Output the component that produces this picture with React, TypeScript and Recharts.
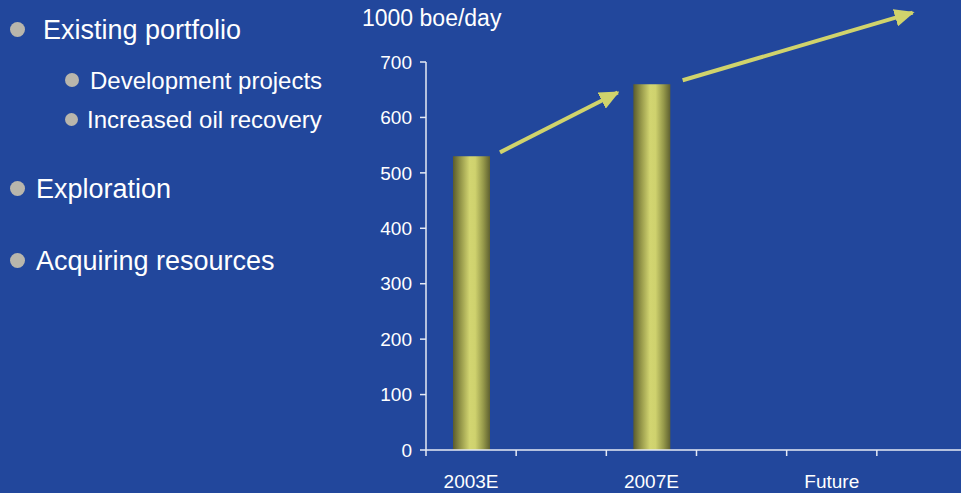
import React from "react";
import { BarChart, Bar, XAxis, YAxis, ReferenceLine } from "recharts";

const categories = ["2003E", "", "2007E", "", "Future", ""];
const production = [530, null, 660, null, null, null];
const yTicks = [0, 100, 200, 300, 400, 500, 600, 700];

// trend arrows, on a 0..5 guide scale across the plot, boe/day vertically
const arrowFrom = [
  [0.684, 537],
  [2.372, 667],
];
const arrowTo = [
  [1.772, 645],
  [4.498, 789],
];

const bullets = [
  { text: "Existing portfolio", level: 0, y: 30 },
  { text: "Development projects", level: 1, y: 81 },
  { text: "Increased oil recovery", level: 1, y: 120 },
  { text: "Exploration", level: 0, y: 189 },
  { text: "Acquiring resources", level: 0, y: 261 },
];

const data = categories.map((name, i) => ({ name, production: production[i] }));

const BG = "#22479c";
const AXIS = "#e6eaf4";
const ARROW = "#d0d36c";
const FONT = '"Liberation Sans", Arial, sans-serif';
const TICK_SIZE = 6;
const TICK_MARGIN = 19;

function CategoryTick(props: any) {
  const { x, y, payload, index, visibleTicksCount } = props;
  const half = payload && payload.offset ? payload.offset : 45;
  const axisY = y - TICK_MARGIN - TICK_SIZE;
  return (
    <g>
      <line x1={x - half} x2={x - half} y1={axisY} y2={axisY + TICK_SIZE} stroke={AXIS} strokeWidth={1.5} />
      {index === visibleTicksCount - 1 && (
        <line x1={x + half} x2={x + half} y1={axisY} y2={axisY + TICK_SIZE} stroke={AXIS} strokeWidth={1.5} />
      )}
      <text x={x} y={y} dy="0.71em" textAnchor="middle" fill="#ffffff" fontSize={19} fontFamily={FONT}>
        {payload.value}
      </text>
    </g>
  );
}

const arrowShape = (p: any) => (
  <line x1={p.x1} y1={p.y1} x2={p.x2} y2={p.y2} stroke={ARROW} strokeWidth={4} markerEnd="url(#arrowHead)" />
);

export default function App() {
  return (
    <div
      style={{
        position: "absolute",
        top: 0,
        left: 0,
        width: 961,
        height: 493,
        overflow: "hidden",
        background: BG,
        fontFamily: FONT,
        color: "#ffffff",
      }}
    >
      {bullets.map((b, i) => {
        const r = b.level === 0 ? 7.5 : i === 1 ? 7 : 6.5;
        const cx = b.level === 0 ? 17.5 : 71.5;
        const tx = b.level === 0 ? (i === 0 ? 43 : 36) : i === 1 ? 90 : 87;
        return (
          <React.Fragment key={b.text}>
            <div
              style={{
                position: "absolute",
                left: cx - r,
                top: b.y - r - 1,
                width: r * 2,
                height: r * 2,
                borderRadius: "50%",
                background: "#b9b6ac",
              }}
            />
            <div
              style={{
                position: "absolute",
                left: tx,
                top: b.y - 16,
                height: 32,
                lineHeight: "32px",
                fontSize: b.level === 0 ? 27 : 24,
                whiteSpace: "nowrap",
              }}
            >
              {b.text}
            </div>
          </React.Fragment>
        );
      })}
      <div
        style={{
          position: "absolute",
          left: 362,
          top: 4,
          fontSize: 23,
          lineHeight: "28px",
          whiteSpace: "nowrap",
        }}
      >
        1000 boe/day
      </div>
      <div style={{ position: "absolute", top: 0, left: 0 }}>
        <BarChart width={990} height={493} data={data} margin={{ top: 62, right: 23, bottom: 0, left: 0 }}>
          <defs>
            <linearGradient id="barGrad" x1="0" y1="0" x2="1" y2="0">
              <stop offset="0" stopColor="#5a5b2e" />
              <stop offset="0.22" stopColor="#989a4b" />
              <stop offset="0.45" stopColor="#d2d571" />
              <stop offset="0.6" stopColor="#cfd26e" />
              <stop offset="0.82" stopColor="#95984a" />
              <stop offset="1" stopColor="#5e6030" />
            </linearGradient>
            <marker
              id="arrowHead"
              viewBox="0 0 20 18"
              refX="18"
              refY="9"
              markerWidth="20"
              markerHeight="18"
              markerUnits="userSpaceOnUse"
              orient="auto"
            >
              <path d="M0,0 L20,9 L0,18 Z" fill={ARROW} />
            </marker>
          </defs>
          <XAxis
            dataKey="name"
            interval={0}
            height={43}
            tickLine={false}
            tickSize={TICK_SIZE}
            tickMargin={TICK_MARGIN}
            axisLine={{ stroke: AXIS, strokeWidth: 1.5 }}
            tick={CategoryTick}
          />
          <XAxis xAxisId="num" type="number" domain={[0, 5]} hide allowDataOverflow />
          <YAxis
            width={426}
            domain={[0, 700]}
            ticks={yTicks}
            interval={0}
            tickSize={TICK_SIZE}
            tickMargin={8}
            axisLine={{ stroke: AXIS, strokeWidth: 1.5 }}
            tickLine={{ stroke: AXIS, strokeWidth: 1.5 }}
            tick={{ fill: "#ffffff", fontSize: 19, fontFamily: FONT }}
          />
          <Bar dataKey="production" fill="url(#barGrad)" barSize={37} isAnimationActive={false} />
          {arrowFrom.map((f, i) => (
            <ReferenceLine
              key={i}
              xAxisId="num"
              ifOverflow="visible"
              segment={[
                { x: f[0], y: f[1] },
                { x: arrowTo[i][0], y: arrowTo[i][1] },
              ]}
              shape={arrowShape}
            />
          ))}
        </BarChart>
      </div>
    </div>
  );
}
